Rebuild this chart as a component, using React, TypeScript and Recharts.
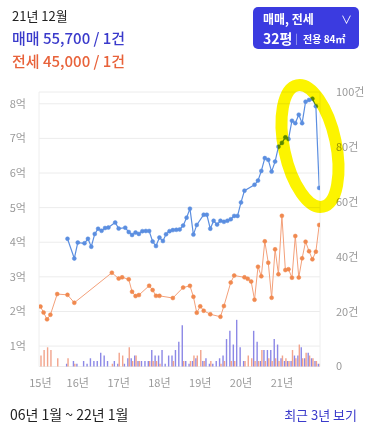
import React from 'react';
import { ComposedChart, Line, Bar, XAxis, YAxis, CartesianGrid } from 'recharts';

// 매매 (sale) monthly price, 만원
const saleMonths = [
  '2015-10','2015-12','2016-01','2016-03','2016-04','2016-05','2016-06','2016-07','2016-08','2016-09','2016-10','2016-12',
  '2017-01','2017-03','2017-04','2017-05','2017-06','2017-07','2017-08','2017-09','2017-10','2017-11','2017-12',
  '2018-01','2018-02','2018-03','2018-04','2018-05','2018-06','2018-07','2018-08','2018-09','2018-10','2018-11','2018-12',
  '2019-02','2019-03','2019-04','2019-05','2019-06','2019-07','2019-08','2019-09','2019-10','2019-11','2019-12',
  '2020-01','2020-02','2020-05','2020-06','2020-07','2020-08','2020-09','2020-10','2020-11','2020-12',
  '2021-01','2021-02','2021-03','2021-04','2021-05','2021-06','2021-07','2021-08','2021-09','2021-10','2021-11','2021-12',
];
const salePrices = [
  41000,35300,39900,39700,41000,38700,42400,43900,43300,44100,44250,45700,
  43950,44200,42950,42100,42800,42400,43200,43250,43250,40200,38900,
  41350,40350,42300,43200,43500,43600,43700,44800,47100,49700,42200,45000,
  47950,47950,43900,46200,45100,46200,45900,46200,46650,47600,47600,
  51500,54900,56600,57800,60600,64300,63800,60400,63300,67600,
  68700,70300,69800,75100,74400,76850,74400,80600,81100,81450,79300,55700,
];
const saleCounts = [
  1,2,1,2,1,3,2,2,5,4,2,2,
  1,1,3,3,4,2,2,2,2,6,4,
  4,6,1,4,4,6,9,15,2,1,2,3,
  2,3,1,1,2,3,4,10,13,8,17,
  7,2,13,9,2,6,6,6,10,8,
  3,2,2,2,4,4,7,3,5,3,2,1,
];

// 전세 (jeonse) monthly price, 만원
const rentMonths = [
  '2015-02','2015-03','2015-04','2015-05','2015-07','2015-10','2015-12','2016-11',
  '2017-01','2017-02','2017-04','2017-05','2017-06','2017-07','2017-10','2017-11','2017-12',
  '2018-01','2018-05','2018-08','2018-10','2018-11','2018-12',
  '2019-01','2019-02','2019-04','2019-07','2019-08','2019-10','2019-11',
  '2020-02','2020-03','2020-04','2020-05','2020-06','2020-07','2020-08','2020-09','2020-10','2020-11','2020-12',
  '2021-01','2021-02','2021-03','2021-04','2021-05','2021-06','2021-07','2021-08','2021-09','2021-10','2021-11','2021-12',
];
const rentPrices = [
  21420,19690,17720,19050,25030,24800,22520,31190,
  29500,29860,29280,25700,24450,24740,27430,26190,24510,
  24510,23880,26910,27400,24250,19630,
  21480,20210,19190,18470,21560,28360,30380,
  29860,29450,28650,23390,32920,30150,40260,34080,23960,37950,30750,
  47630,31970,32200,29740,41790,29800,35350,40150,37400,35060,37260,45000,
];
const rentCounts = [
  4,6,7,6,3,3,1,1,
  5,4,7,2,4,2,2,2,2,
  1,2,2,2,4,4,
  6,2,2,1,2,2,2,
  2,4,3,2,2,6,2,3,2,3,2,
  4,3,2,6,3,8,3,5,4,3,2,1,
];

const yearTickLabels = ['15년','16년','17년','18년','19년','20년','21년'];
const priceTicks = [10000,20000,30000,40000,50000,60000,70000,80000];
const countTicks = [0,20,40,60,80,100];

const DAY = 86400000;
const BASE = Date.UTC(2015, 0, 1);
const dayOf = (y: number, m: number, d = 1) => (Date.UTC(y, m - 1, d) - BASE) / DAY;
const dayOfYm = (ym: string) => {
  const [y, m] = ym.split('-').map(Number);
  return dayOf(y, m);
};

const rows: any[] = [];
for (let y = 2015; y <= 2021; y++) {
  for (let m = 1; m <= 12; m++) {
    const ym = `${y}-${String(m).padStart(2, '0')}`;
    const row: any = { t: dayOfYm(ym) };
    const si = saleMonths.indexOf(ym);
    if (si >= 0) { row.sale = salePrices[si]; row.saleCnt = saleCounts[si]; }
    const ri = rentMonths.indexOf(ym);
    if (ri >= 0) { row.rent = rentPrices[ri]; row.rentCnt = rentCounts[ri]; }
    rows.push(row);
  }
}

const yearTicks = [dayOf(2015, 2, 1), dayOf(2016, 1), dayOf(2017, 1), dayOf(2018, 1), dayOf(2019, 1), dayOf(2020, 1), dayOf(2021, 1)];
const tickLabel = (v: number) => {
  const i = yearTicks.indexOf(v);
  return i >= 0 ? yearTickLabels[i] : '';
};

const FONT = '"Noto Sans CJK KR", "Noto Sans", sans-serif';
const SALE = '#5b8ee0';
const RENT = '#f0894f';

export default function App() {
  return (
    <div style={{ position: 'absolute', left: 0, top: 0, width: 368, height: 433, background: '#fff', fontFamily: FONT, overflow: 'hidden' }}>
      <div style={{ position: 'absolute', left: 12, top: 6, fontSize: 13, color: '#222', lineHeight: '20px' }}>21년 12월</div>
      <div style={{ position: 'absolute', left: 12, top: 27, fontSize: 15, color: '#3a3acb', lineHeight: '22px', fontWeight: 500 }}>매매 55,700 / 1건</div>
      <div style={{ position: 'absolute', left: 12, top: 50, fontSize: 15, color: '#e8623a', lineHeight: '22px', fontWeight: 500 }}>전세 45,000 / 1건</div>

      <div style={{ position: 'absolute', left: 253, top: 7, width: 106, height: 42, borderRadius: 5, background: '#3b3be0', color: '#fff' }}>
        <div style={{ position: 'absolute', left: 10, top: 3, fontSize: 12, fontWeight: 700, lineHeight: '18px' }}>매매, 전세</div>
        <div style={{ position: 'absolute', left: 88, top: 3, fontSize: 11, lineHeight: '18px' }}>∨</div>
        <div style={{ position: 'absolute', left: 10, top: 21, fontSize: 14, fontWeight: 700, lineHeight: '20px' }}>32평</div>
        <div style={{ position: 'absolute', left: 42, top: 22, fontSize: 10, lineHeight: '18px', opacity: 0.6 }}>|</div>
        <div style={{ position: 'absolute', left: 50, top: 23, fontSize: 10, fontWeight: 700, lineHeight: '18px' }}>전용 84㎡</div>
      </div>

      <div style={{ position: 'absolute', left: 0, top: 0 }}>
        <ComposedChart width={368} height={400} data={rows} margin={{ top: 92, right: 0, bottom: 0, left: 0 }} barGap={0}>
          <CartesianGrid yAxisId="price" vertical={false} stroke="#ececec" />
          <XAxis dataKey="t" type="number" domain={[18, 2533]} ticks={yearTicks} tickFormatter={tickLabel}
            axisLine={false} tickLine={false} height={33.5} tickMargin={7} interval={0}
            tick={{ fill: '#999', fontSize: 11, fontFamily: FONT }} allowDataOverflow />
          <YAxis yAxisId="price" orientation="left" width={39} domain={[4100, 83400]} ticks={priceTicks}
            tickFormatter={(v: number) => `${v / 10000}억`} axisLine={{ stroke: '#eeeeee' }} tickLine={false}
            tickMargin={7} tick={{ fill: '#999', fontSize: 11, fontFamily: FONT }} allowDataOverflow />
          <YAxis yAxisId="cnt" orientation="right" width={48} domain={[0, 100]} ticks={countTicks}
            tickFormatter={(v: number) => (v === 0 ? '0' : `${v}건`)} axisLine={{ stroke: '#eeeeee' }} tickLine={false}
            tickMargin={10} tick={{ fill: '#999', fontSize: 11, fontFamily: FONT }} />
          <Bar yAxisId="cnt" dataKey="saleCnt" fill="#8c88e6" barSize={1.6} isAnimationActive={false} />
          <Bar yAxisId="cnt" dataKey="rentCnt" fill="#f2a48c" barSize={1.6} isAnimationActive={false} />
          <Line yAxisId="price" dataKey="rent" stroke="#f3a07a" strokeWidth={1} connectNulls
            dot={{ r: 2, fill: RENT, stroke: RENT, strokeWidth: 0.5 }} isAnimationActive={false} />
          <Line yAxisId="price" dataKey="sale" stroke={SALE} strokeWidth={1.2} connectNulls
            dot={{ r: 2, fill: SALE, stroke: SALE, strokeWidth: 0.5 }} isAnimationActive={false} />
        </ComposedChart>
      </div>

      <svg width={368} height={433} style={{ position: 'absolute', left: 0, top: 0, pointerEvents: 'none', mixBlendMode: 'multiply' }}>
        <ellipse cx={310} cy={146} rx={26} ry={62} transform="rotate(-12 310 146)" fill="none" stroke="#fcf400" strokeWidth={12} />
      </svg>

      <div style={{ position: 'absolute', left: 10, top: 404, fontSize: 14, color: '#222', lineHeight: '20px' }}>06년 1월 ~ 22년 1월</div>
      <div style={{ position: 'absolute', right: 11, top: 405, fontSize: 13, color: '#3a3acb', lineHeight: '20px' }}>최근 3년 보기</div>
    </div>
  );
}
